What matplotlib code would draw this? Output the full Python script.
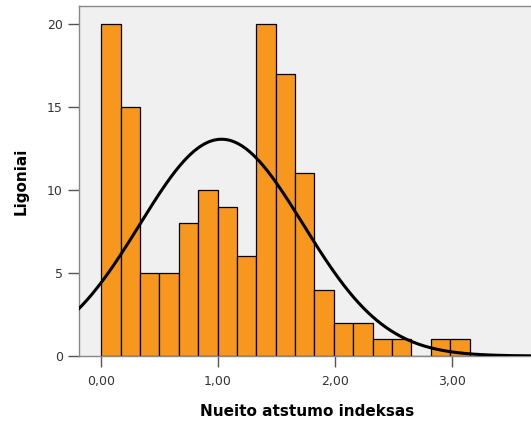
import numpy as np
import matplotlib.pyplot as plt
from matplotlib.ticker import FuncFormatter

# histogram counts (bin width ~0.166, starting at 0)
bin_width = 0.166
counts = [20, 15, 5, 5, 8, 10, 9, 6, 20, 17, 11, 4, 2, 2, 1, 1, 0, 1, 1]
bin_starts = [i * bin_width for i in range(len(counts))]

# normal curve parameters (as drawn by SPSS)
mean_val = 1.03
sd_val = 0.70
n_total = sum(counts)

fig = plt.figure(figsize=(5.31, 4.26), dpi=100)
ax = fig.add_axes([0.1488, 0.1643, 0.86, 0.8216])
ax.set_facecolor('#f0f0f0')

ax.bar(bin_starts, counts, width=bin_width, align='edge',
       color='#f7971e', edgecolor='black', linewidth=0.9, zorder=2)

xs = np.linspace(-0.2, 3.7, 400)
ys = n_total * bin_width / (sd_val * np.sqrt(2 * np.pi)) * np.exp(-(xs - mean_val) ** 2 / (2 * sd_val ** 2))
ax.plot(xs, ys, color='black', linewidth=2.2, zorder=3)

ax.set_xlim(-0.19, 3.72)
ax.set_ylim(0, 21.08)
ax.set_xticks([0, 1, 2, 3])
ax.set_yticks([0, 5, 10, 15, 20])
ax.xaxis.set_major_formatter(FuncFormatter(lambda v, p: f'{v:.2f}'.replace('.', ',')))

for s in ax.spines.values():
    s.set_color('#888888')
    s.set_linewidth(1.0)
ax.tick_params(axis='both', direction='out', length=8, width=1, color='#555555',
               labelsize=9, labelcolor='#333333')
ax.tick_params(axis='x', pad=6)

ax.set_xlabel('Nueito atstumo indeksas', fontsize=11, fontweight='bold', labelpad=11)
ax.set_ylabel('Ligoniai', fontsize=11, fontweight='bold', labelpad=13)

plt.savefig('out.png', dpi=100)
